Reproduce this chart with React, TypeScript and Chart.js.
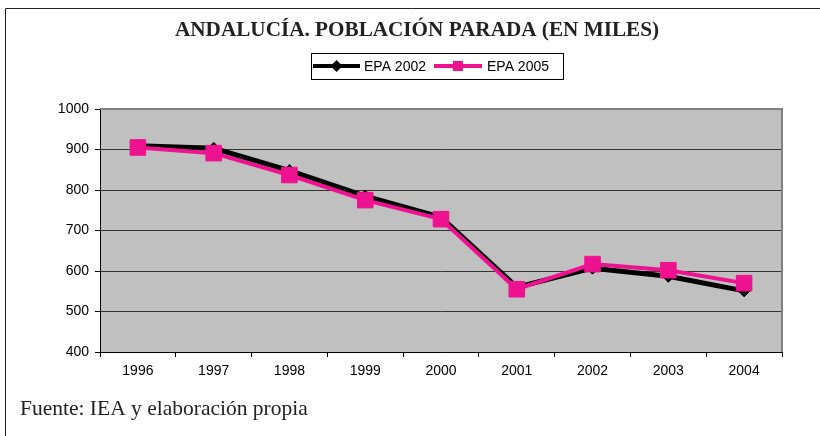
import React, { useEffect, useRef } from "react";
import { Chart, registerables } from "chart.js";

Chart.register(...registerables);

const TITLE = "ANDALUCÍA. POBLACIÓN PARADA (EN MILES)";
const SOURCE = "Fuente: IEA y elaboración propia";
const YEARS = ["1996", "1997", "1998", "1999", "2000", "2001", "2002", "2003", "2004"];
const EPA_2002 = [909, 903, 848, 785, 733, 560, 607, 587, 551];
const EPA_2005 = [905, 891, 837, 775, 728, 555, 617, 602, 570];
const SERIES_NAMES = ["EPA 2002", "EPA 2005"];
const SERIES_COLORS = ["#000000", "#EE1190"];
const Y_MIN = 400;
const Y_MAX = 1000;
const Y_STEP = 100;

const SANS = "'Liberation Sans', Arial, sans-serif";
const SERIF = "'Liberation Serif', 'Times New Roman', serif";

const decorPlugin = {
  id: "decor",
  beforeDraw(chart: any) {
    const { ctx, chartArea, width, height } = chart;
    ctx.save();
    ctx.fillStyle = "#ffffff";
    ctx.fillRect(0, 0, width, height);
    // outer frame
    ctx.strokeStyle = "#222";
    ctx.lineWidth = 1;
    ctx.beginPath();
    ctx.moveTo(5.5, height);
    ctx.lineTo(5.5, 8.5);
    ctx.lineTo(width, 8.5);
    ctx.stroke();
    // plot background
    ctx.fillStyle = "#C0C0C0";
    ctx.fillRect(chartArea.left, chartArea.top, chartArea.right - chartArea.left, chartArea.bottom - chartArea.top);
    ctx.restore();
  },
  beforeDatasetsDraw(chart: any) {
    const { ctx, chartArea } = chart;
    ctx.save();
    ctx.strokeStyle = "#808080";
    ctx.lineWidth = 2;
    ctx.beginPath();
    ctx.moveTo(chartArea.left, chartArea.top);
    ctx.lineTo(chartArea.right, chartArea.top);
    ctx.lineTo(chartArea.right, chartArea.bottom);
    ctx.stroke();
    ctx.restore();
  },
  afterDraw(chart: any) {
    const { ctx } = chart;
    ctx.save();
    // title
    ctx.fillStyle = "#222";
    ctx.font = `bold 21.2px ${SERIF}`;
    ctx.textAlign = "center";
    ctx.textBaseline = "alphabetic";
    ctx.fillText(TITLE, 417, 36);

    // legend box
    ctx.strokeStyle = "#000";
    ctx.lineWidth = 1;
    ctx.strokeRect(311.5, 53.5, 252, 26);
    const ly = 66;
    const items = [
      { x0: 313, x1: 360, tx: 364 },
      { x0: 434, x1: 482, tx: 487 },
    ];
    items.forEach((it, i) => {
      ctx.strokeStyle = SERIES_COLORS[i];
      ctx.fillStyle = SERIES_COLORS[i];
      ctx.lineWidth = 4;
      ctx.beginPath();
      ctx.moveTo(it.x0, ly);
      ctx.lineTo(it.x1, ly);
      ctx.stroke();
      const cx = (it.x0 + it.x1) / 2;
      ctx.beginPath();
      if (i === 0) {
        ctx.moveTo(cx, ly - 6);
        ctx.lineTo(cx + 6, ly);
        ctx.lineTo(cx, ly + 6);
        ctx.lineTo(cx - 6, ly);
        ctx.closePath();
      } else {
        ctx.rect(cx - 5, ly - 5, 10, 10);
      }
      ctx.fill();
      ctx.fillStyle = "#000";
      ctx.font = `14px ${SANS}`;
      ctx.textAlign = "left";
      ctx.textBaseline = "middle";
      ctx.fillText(SERIES_NAMES[i], it.tx, ly + 1);
    });

    // source
    ctx.fillStyle = "#222";
    ctx.font = `21.5px ${SERIF}`;
    ctx.textAlign = "left";
    ctx.textBaseline = "alphabetic";
    ctx.fillText(SOURCE, 20, 415);
    ctx.restore();
  },
};

export default function App() {
  const ref = useRef<HTMLCanvasElement | null>(null);
  useEffect(() => {
    if (!ref.current) return;
    const chart = new Chart(ref.current, {
      type: "line",
      data: {
        labels: YEARS,
        datasets: [
          {
            label: SERIES_NAMES[0],
            data: EPA_2002,
            borderColor: SERIES_COLORS[0],
            backgroundColor: SERIES_COLORS[0],
            borderWidth: 5,
            pointStyle: "rectRot",
            pointRadius: 6,
            pointBorderWidth: 1,
            order: 1,
          },
          {
            label: SERIES_NAMES[1],
            data: EPA_2005,
            borderColor: SERIES_COLORS[1],
            backgroundColor: SERIES_COLORS[1],
            borderWidth: 4,
            pointStyle: "rect",
            pointRadius: 11,
            pointBorderWidth: 1,
            order: 0,
          },
        ],
      },
      options: {
        animation: false,
        responsive: false,
        devicePixelRatio: 1,
        layout: { padding: { left: 0, right: 38, top: 109, bottom: 54 } },
        plugins: {
          legend: { display: false },
          title: { display: false },
          tooltip: { enabled: false },
        },
        scales: {
          x: {
            type: "category",
            offset: true,
            afterFit: (s: any) => {
              s.height = 30;
            },
            grid: {
              offset: true,
              drawOnChartArea: false,
              tickLength: 5,
              tickColor: "#000",
              color: "#000",
            },
            border: { display: true, color: "#000", width: 1 },
            ticks: {
              color: "#000",
              font: { family: SANS, size: 14 },
              padding: 6,
              maxRotation: 0,
            },
          },
          y: {
            min: Y_MIN,
            max: Y_MAX,
            afterFit: (s: any) => {
              s.width = 100;
            },
            grid: {
              color: (c: any) => (c.tick && c.tick.value === Y_MAX ? "#808080" : "#333"),
              tickColor: "#000",
              tickLength: 5,
              lineWidth: 1,
            },
            border: { display: true, color: "#000", width: 1 },
            ticks: {
              stepSize: Y_STEP,
              color: "#000",
              font: { family: SANS, size: 14 },
              padding: 6,
              callback: (v: any) => String(v),
            },
          },
        },
      },
      plugins: [decorPlugin],
    });
    return () => chart.destroy();
  }, []);
  return (
    <div style={{ position: "fixed", left: 0, top: 0, width: 820, height: 436, background: "#fff" }}>
      <canvas ref={ref} width={820} height={436} style={{ display: "block" }} />
    </div>
  );
}
